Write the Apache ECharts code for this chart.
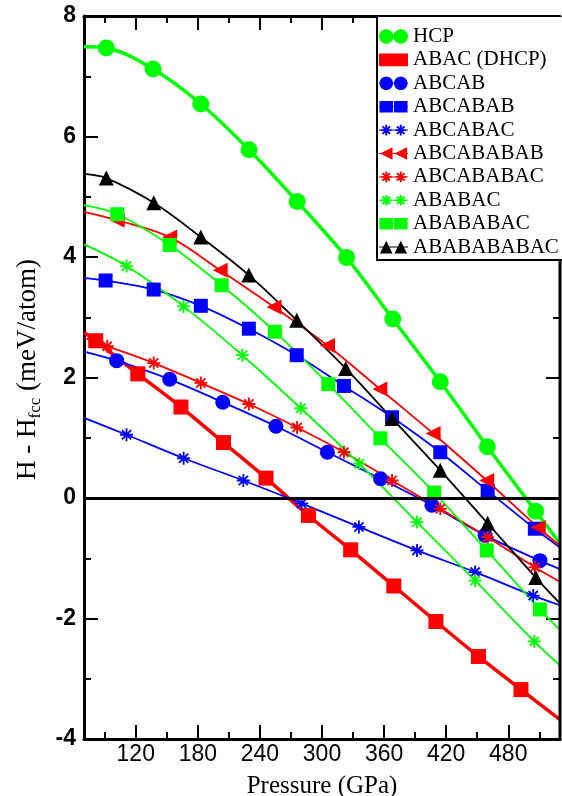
<!DOCTYPE html>
<html>
<head>
<meta charset="utf-8">
<script src="https://cdn.jsdelivr.net/npm/echarts@6/dist/echarts.min.js"></script>
<style>html,body{margin:0;padding:0;background:#fff;}#c{width:562px;height:796px;}</style>
</head>
<body>
<div id="c"></div>
<script>
// ---- data (first and last point of each list are curve ends, no marker) ----
const seriesNames = ['HCP','ABAC (DHCP)','ABCAB','ABCABAB','ABCABAC','ABCABABAB','ABCABABAC','ABABAC','ABABABAC','ABABABABAC'];

const hcpP = [70, 91.5, 136.7, 182.9, 229.5, 276.0, 323.8, 368.4, 414.3, 459.8, 506.5, 530];
const hcpH = [7.49, 7.47, 7.12, 6.54, 5.78, 4.92, 3.99, 2.97, 1.93, 0.85, -0.22, -0.75];

const dhcpP = [70, 81.3, 122.0, 163.7, 204.8, 245.9, 286.9, 327.7, 369.4, 410.1, 451.2, 492.3, 530];
const dhcpH = [2.75, 2.61, 2.06, 1.51, 0.92, 0.33, -0.29, -0.86, -1.46, -2.05, -2.63, -3.18, -3.68];

const abcabP = [70, 101.5, 152.8, 204.1, 255.5, 305.2, 356.6, 406.2, 457.6, 510.6, 530];
const abcabH = [2.43, 2.28, 1.97, 1.59, 1.19, 0.76, 0.32, -0.12, -0.62, -1.04, -1.18];

const abcababP = [70, 90.9, 137.4, 182.9, 229.3, 275.6, 321.2, 367.7, 414.3, 460.1, 505.7, 530];
const abcababH = [3.65, 3.61, 3.46, 3.19, 2.81, 2.37, 1.86, 1.34, 0.76, 0.12, -0.51, -0.82];

const abcabacP = [70, 111.1, 166.3, 224.0, 280.3, 335.7, 391.8, 448.0, 504.1, 530];
const abcabacH = [1.33, 1.05, 0.66, 0.29, -0.09, -0.48, -0.87, -1.23, -1.62, -1.78];

const abcabababP = [70, 102.1, 152.8, 201.6, 253.6, 305.3, 355.9, 407.4, 459.2, 508.9, 530];
const abcabababH = [4.75, 4.61, 4.33, 3.78, 3.17, 2.53, 1.81, 1.07, 0.29, -0.49, -0.79];

const abcababacP = [70, 92.4, 137.4, 182.9, 229.3, 275.9, 321.2, 367.7, 414.3, 460.1, 505.7, 530];
const abcababacH = [2.66, 2.52, 2.24, 1.91, 1.56, 1.17, 0.76, 0.29, -0.18, -0.65, -1.15, -1.39];

const ababacP = [70, 111.1, 166.3, 223.0, 279.5, 336.0, 391.8, 448.0, 505.1, 530];
const ababacH = [4.21, 3.85, 3.18, 2.37, 1.49, 0.57, -0.40, -1.37, -2.38, -2.78];

const abababacP = [70, 102.1, 152.8, 203.1, 254.5, 306.1, 356.5, 408.4, 459.2, 510.6, 530];
const abababacH = [4.86, 4.71, 4.20, 3.53, 2.76, 1.89, 0.99, 0.09, -0.87, -1.85, -2.19];

const ababababacP = [70, 91.5, 137.4, 182.9, 229.3, 275.6, 322.9, 367.7, 414.3, 460.1, 506.6, 530];
const ababababacH = [5.38, 5.31, 4.90, 4.33, 3.70, 2.95, 2.15, 1.32, 0.46, -0.42, -1.32, -1.75];

const xMajorTicks = [120, 180, 240, 300, 360, 420, 480];
const xMinorTicks = [90, 150, 210, 270, 330, 390, 450, 510];
// top and right frame ticks that are not hidden by the legend box
const xTopMajorTicks = [120, 180, 240, 300, 360];
const xTopMinorTicks = [90, 150, 210, 270, 330];
const yRightMajorTicks = [-4, -2, 0, 2];
const yRightMinorTicks = [-3, -1, 1, 3];

// ---- symbol paths ----
function poly(pts){ return 'M' + pts.map(p => p[0].toFixed(2) + ' ' + p[1].toFixed(2)).join(' L') + ' Z '; }
function circleP(cx, cy, r){ const pts = []; for (let i = 0; i < 36; i++){ const a = i / 36 * 2 * Math.PI; pts.push([cx + r * Math.cos(a), cy + r * Math.sin(a)]); } return poly(pts); }
function rectP(x0, y0, x1, y1){ return poly([[x0,y0],[x1,y0],[x1,y1],[x0,y1]]); }
function starP(cx, cy, r, t){ let s = ''; for (let k = 0; k < 4; k++){ const a = k * Math.PI / 4, c = Math.cos(a), sn = Math.sin(a); const base = [[-r,-t],[r,-t],[r,t],[-r,t]]; s += poly(base.map(([x,y]) => [cx + x*c - y*sn, cy + x*sn + y*c])); } return s; }
function triLeftP(cx, cy, r){ return poly([[cx-r,cy],[cx+r,cy-r],[cx+r,cy+r]]); }
function triUpP(cx, cy, r){ return poly([[cx,cy-r],[cx+r,cy+r],[cx-r,cy+r]]); }
const anchors = 'M0 0 L0 0 Z M60 30 L60 30 Z ';
function legendIcon(kind, lw){
  let s = anchors + rectP(0, 15 - lw, 60, 15 + lw);
  for (const cx of [15, 45]){
    if (kind === 'circle') s += circleP(cx, 15, 15);
    else if (kind === 'circleS') s += circleP(cx, 15, 14);
    else if (kind === 'rect') s += rectP(cx - 15, 2, cx + 15, 28);
    else if (kind === 'rectS') s += rectP(cx - 14, 3, cx + 14, 27);
    else if (kind === 'star') s += starP(cx, 15, 11, 2);
    else if (kind === 'triL') s += triLeftP(cx, 15, 13);
    else if (kind === 'triU') s += triUpP(cx, 15, 13);
  }
  return 'path://' + s;
}
const starSym = 'path://' + starP(50, 50, 50, 7);
const triLSym = 'path://' + triLeftP(50, 50, 50);

const GREEN = '#00ff00', RED = '#ff0000', BLUE = '#0000ff', BLACK = '#000000';

function mk(name, xs, ys, color, symbol, size, lw){
  return {
    name: name, type: 'line', xAxisIndex: 0, yAxisIndex: 0,
    data: xs.map((x, i) => (i === 0 || i === xs.length - 1) ? {value: [x, ys[i]], symbol: 'none'} : {value: [x, ys[i]]}),
    smooth: 0.35,
    symbol: symbol, symbolSize: size,
    lineStyle: {color: color, width: lw},
    itemStyle: {color: color, borderWidth: 0},
    emphasis: {disabled: true},
    animation: false
  };
}

const series = [
  mk(seriesNames[0], hcpP, hcpH, GREEN, 'circle', 17, 3.5),
  mk(seriesNames[1], dhcpP, dhcpH, RED, 'rect', 15, 3.5),
  mk(seriesNames[2], abcabP, abcabH, BLUE, 'circle', 15, 1.8),
  mk(seriesNames[3], abcababP, abcababH, BLUE, 'rect', 14, 1.8),
  mk(seriesNames[4], abcabacP, abcabacH, BLUE, starSym, 13, 1.8),
  mk(seriesNames[5], abcabababP, abcabababH, RED, triLSym, 15, 1.8),
  mk(seriesNames[6], abcababacP, abcababacH, RED, starSym, 13, 1.8),
  mk(seriesNames[7], ababacP, ababacH, GREEN, starSym, 13, 1.8),
  mk(seriesNames[8], abababacP, abababacH, GREEN, 'rect', 14, 1.8),
  mk(seriesNames[9], ababababacP, ababababacH, BLACK, 'triangle', 15, 1.8)
];
series[0].markLine = {
  silent: true, symbol: 'none', label: {show: false}, animation: false,
  lineStyle: {color: '#000', width: 3, type: 'solid'},
  data: [{yAxis: 0}]
};

const icons = [
  legendIcon('circle', 2), legendIcon('rect', 2), legendIcon('circleS', 1), legendIcon('rectS', 1),
  legendIcon('star', 1), legendIcon('triL', 1), legendIcon('star', 1), legendIcon('star', 1),
  legendIcon('rectS', 1), legendIcon('triU', 1)
];

const tickStyle = {color: '#000', width: 2};
function xAx(pos, vals, len, withLine, withLabel){
  return {
    type: 'value', min: 70, max: 530, position: pos,
    axisLine: {show: withLine, onZero: false, lineStyle: {color: '#000', width: 3}},
    axisTick: {show: true, inside: true, length: len, customValues: vals, lineStyle: tickStyle},
    axisLabel: withLabel ? {show: true, customValues: vals, fontFamily: 'Liberation Sans', fontSize: 23, color: '#000', margin: 4} : {show: false},
    splitLine: {show: false}
  };
}
const xAxes = [
  xAx('bottom', xMajorTicks, 14, true, true),
  xAx('bottom', xMinorTicks, 7, false, false),
  xAx('top', xTopMajorTicks, 14, true, false),
  xAx('top', xTopMinorTicks, 7, false, false)
];
xAxes[0].name = 'Pressure (GPa)';
xAxes[0].nameLocation = 'middle';
xAxes[0].nameGap = 35;
xAxes[0].nameTextStyle = {fontFamily: 'Liberation Serif', fontSize: 25, color: '#000'};

const yAxes = [
  {
    type: 'value', min: -4, max: 8, interval: 2, position: 'left',
    axisLine: {show: true, onZero: false, lineStyle: {color: '#000', width: 3}},
    axisTick: {show: true, inside: true, length: 14, lineStyle: tickStyle},
    minorTick: {show: true, splitNumber: 2, length: 7, lineStyle: tickStyle},
    axisLabel: {show: true, fontFamily: 'Liberation Sans', fontWeight: 'bold', fontSize: 23, color: '#000', margin: 8},
    splitLine: {show: false}, minorSplitLine: {show: false},
    name: '{n|H - H}{s|fcc}{n| (meV/atom)}',
    nameLocation: 'middle', nameRotate: 90, nameGap: 40,
    nameTextStyle: {
      color: '#000', padding: [0, 0, 0, 16],
      rich: {
        n: {fontFamily: 'Liberation Serif', fontSize: 27, lineHeight: 32, color: '#000'},
        s: {fontFamily: 'Liberation Serif', fontSize: 17, lineHeight: 14, verticalAlign: 'bottom', color: '#000'}
      }
    }
  },
  {
    type: 'value', min: -4, max: 8, position: 'right',
    axisLine: {show: false, onZero: false},
    axisTick: {show: true, inside: true, length: 14, customValues: yRightMajorTicks, lineStyle: tickStyle},
    axisLabel: {show: false}, splitLine: {show: false}
  },
  {
    type: 'value', min: -4, max: 8, position: 'right',
    axisLine: {show: false, onZero: false},
    axisTick: {show: true, inside: true, length: 7, customValues: yRightMinorTicks, lineStyle: tickStyle},
    axisLabel: {show: false}, splitLine: {show: false}
  }
];

const LEGEND_LEFT = 377, LEGEND_TOP = 17, LEGEND_BOTTOM = 260, CANVAS_W = 562;

const chart = echarts.init(document.getElementById('c'), null, {renderer: 'canvas', width: 562, height: 796});
chart.setOption({
  animation: false,
  backgroundColor: '#fff',
  grid: {left: 84, right: 2, top: 16, bottom: 57, containLabel: false, outerBoundsMode: 'none'},
  xAxis: xAxes,
  yAxis: yAxes,
  legend: {
    orient: 'vertical', left: LEGEND_LEFT, top: LEGEND_TOP, z: 6,
    backgroundColor: 'transparent', borderWidth: 0,
    padding: [9, 70, 5, 2],
    itemWidth: 29, itemHeight: 15, itemGap: 2.4,
    selectedMode: false,
    textStyle: {fontFamily: 'Liberation Serif', fontSize: 21, color: '#000'},
    data: seriesNames.map((n, i) => ({name: n, icon: icons[i]}))
  },
  series: series
});

// right frame line (below the legend box) and legend box outline, placed from the axis scales
const xRight = chart.convertToPixel({xAxisIndex: 0}, 530);
const yBottom = chart.convertToPixel({yAxisIndex: 0}, -4);
chart.setOption({
  graphic: [{
    type: 'line', z: 7, silent: true,
    shape: {x1: xRight, y1: LEGEND_BOTTOM, x2: xRight, y2: yBottom + 1.5},
    style: {stroke: '#000', lineWidth: 3}
  }, {
    type: 'rect', z: 5, silent: true,
    shape: {x: LEGEND_LEFT, y: LEGEND_TOP, width: CANVAS_W - LEGEND_LEFT, height: LEGEND_BOTTOM - LEGEND_TOP},
    style: {fill: '#fff', stroke: null}
  }, {
    type: 'line', z: 7, silent: true,
    shape: {x1: LEGEND_LEFT, y1: LEGEND_TOP, x2: LEGEND_LEFT, y2: LEGEND_BOTTOM},
    style: {stroke: '#000', lineWidth: 2}
  }, {
    type: 'line', z: 7, silent: true,
    shape: {x1: LEGEND_LEFT - 1, y1: LEGEND_BOTTOM, x2: CANVAS_W, y2: LEGEND_BOTTOM},
    style: {stroke: '#000', lineWidth: 2}
  }]
});
</script>
</body>
</html>
